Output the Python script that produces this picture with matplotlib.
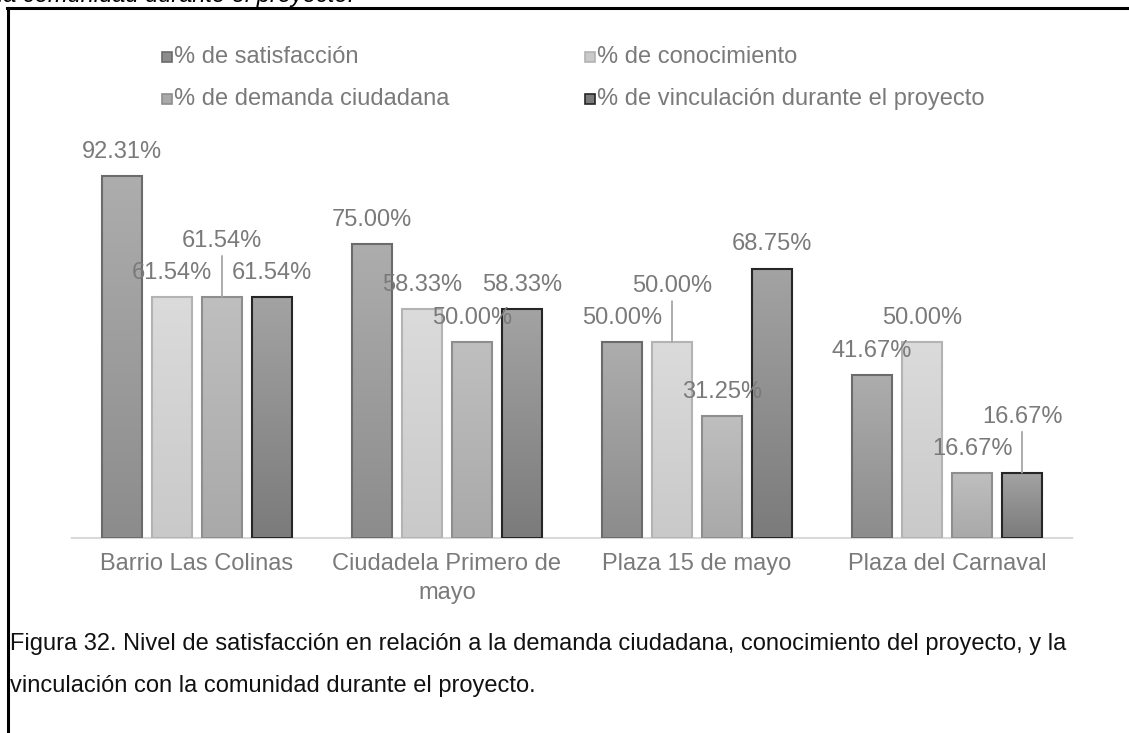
import numpy as np
import matplotlib
matplotlib.use("Agg")
import matplotlib.pyplot as plt
from matplotlib.patches import Rectangle
from matplotlib.lines import Line2D
from matplotlib.colors import LinearSegmentedColormap

plt.rcParams['font.family'] = ['Liberation Sans', 'DejaVu Sans']

categories = ["Barrio Las Colinas", "Ciudadela Primero de\nmayo", "Plaza 15 de mayo", "Plaza del Carnaval"]
series_names = ["% de satisfacción", "% de conocimiento", "% de demanda ciudadana",
                "% de vinculación durante el proyecto"]
satisfaccion = [92.31, 75.00, 50.00, 41.67]
conocimiento = [61.54, 58.33, 50.00, 50.00]
demanda = [61.54, 50.00, 31.25, 16.67]
vinculacion = [61.54, 58.33, 68.75, 16.67]
series_values = [satisfaccion, conocimiento, demanda, vinculacion]

# styles: (top colour, bottom colour, edge colour)
styles = [("#adadad", "#8c8c8c", "#6b6b6b"),
          ("#dbdbdb", "#c9c9c9", "#b3b3b3"),
          ("#bfbfbf", "#a9a9a9", "#8e8e8e"),
          ("#a3a3a3", "#7b7b7b", "#262626")]
# labels lifted with a leader line: (series index, category index)
raised = {(2, 0), (1, 2), (3, 3)}

W, H = 1129, 733
fig = plt.figure(figsize=(W / 100, H / 100), dpi=100)
ax = fig.add_axes([72 / W, 195 / H, 1000 / W, 392 / H])

label_color = "#7a7a7a"
x = np.arange(len(categories))
bw = 0.16
offsets = [-0.3, -0.1, 0.1, 0.3]
grad = np.linspace(0, 1, 256).reshape(-1, 1)
for s, vals in enumerate(series_values):
    top, bot, edge = styles[s]
    cmap = LinearSegmentedColormap.from_list("g%d" % s, [bot, top])
    bars = ax.bar(x + offsets[s], vals, width=bw, facecolor="none", edgecolor=edge,
                  linewidth=1.5, zorder=3)
    for i, rect in enumerate(bars):
        x0 = rect.get_x()
        im = ax.imshow(grad, cmap=cmap, extent=[x0, x0 + bw, 0, rect.get_height()],
                       origin="lower", aspect="auto", zorder=2, interpolation="bilinear")
        im.set_clip_path(rect)
        v = vals[i]
        cx = x0 + bw / 2
        if (s, i) in raised:
            ax.annotate(f"{v:.2f}%", xy=(cx, v), xytext=(0, 56), textcoords="offset pixels",
                        ha="center", va="center", fontsize=17, color=label_color, zorder=5,
                        arrowprops=dict(arrowstyle="-", color="#a6a6a6", lw=1.3,
                                        shrinkA=1, shrinkB=0))
        else:
            ax.annotate(f"{v:.2f}%", xy=(cx, v), xytext=(0, 24), textcoords="offset pixels",
                        ha="center", va="center", fontsize=17, color=label_color, zorder=5)

ax.set_xlim(-0.5, 3.5)
ax.set_ylim(0, 100)
ax.set_yticks([])
ax.set_xticks(x)
ax.set_xticklabels(categories, fontsize=17, color=label_color, linespacing=1.4)
ax.tick_params(axis="x", length=0, pad=11)
for sp in ["top", "left", "right"]:
    ax.spines[sp].set_visible(False)
ax.spines["bottom"].set_color("#d9d9d9")
ax.spines["bottom"].set_linewidth(1.5)
ax.patch.set_alpha(0)

# legend (manual, two columns)
leg_pos = [(162, 57), (585, 57), (162, 99), (585, 99)]
for s, (lx, ly) in enumerate(leg_pos):
    top, bot, edge = styles[s]
    fig.add_artist(Rectangle((lx / W, 1 - (ly + 5) / H), 10 / W, 10 / H,
                             transform=fig.transFigure, facecolor=bot, edgecolor=edge, lw=1.2))
    fig.text((lx + 12) / W, 1 - ly / H, series_names[s], fontsize=17, color=label_color,
             ha="left", va="center")

# frame
fig.add_artist(Line2D([7 / W, 1.0], [1 - 7.5 / H, 1 - 7.5 / H], transform=fig.transFigure,
                      color="black", lw=2.2))
fig.add_artist(Line2D([7.5 / W, 7.5 / W], [1 - 7.5 / H, 0], transform=fig.transFigure,
                      color="black", lw=2.2))

# cut heading above frame
fig.text(-2 / W, 1 - 2 / H, "la comunidad durante el proyecto.", fontsize=17, style="italic",
         color="black", ha="left", va="baseline")

# caption
fig.text(10 / W, 1 - 644 / H,
         "Figura 32. Nivel de satisfacción en relación a la demanda ciudadana, conocimiento del proyecto, y la",
         fontsize=17, color="#111111", ha="left", va="center")
fig.text(10 / W, 1 - 686 / H, "vinculación con la comunidad durante el proyecto.",
         fontsize=17, color="#111111", ha="left", va="center")

fig.savefig("out.png", dpi=100)
